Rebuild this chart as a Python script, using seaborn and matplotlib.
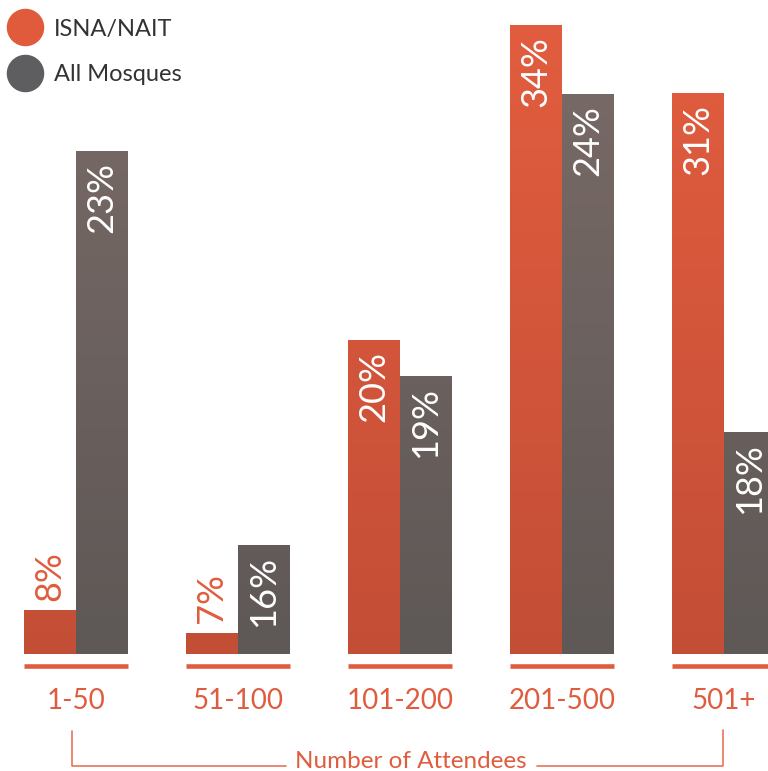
import numpy as np
import pandas as pd
import matplotlib
matplotlib.use('Agg')
import matplotlib.pyplot as plt
import matplotlib.transforms as mtrans
from matplotlib.colors import LinearSegmentedColormap
from matplotlib.lines import Line2D
import seaborn as sns

# %% dados
attendees = ['1-50', '51-100', '101-200', '201-500', '501+']
isna_nait = [8, 7, 20, 34, 31]
all_mosques = [23, 16, 19, 24, 18]
series = ['ISNA/NAIT', 'All Mosques']

# the original infographic draws each series on its own vertical scale
isna_ylim = (6.05, 34.0)
mosque_ylim = (14.06, 25.23)

df = pd.DataFrame({'Attendees': attendees * 2,
                   'Share': isna_nait + all_mosques,
                   'Group': [series[0]] * len(attendees) + [series[1]] * len(attendees)})

orange = '#E05C3E'
grad_colors = {0: ['#C34E36', '#E25D3F'], 1: ['#5E5856', '#7A6B67']}

# %% estilo
sns.set_theme(style='white')
plt.rcParams['font.family'] = ['Lato', 'DejaVu Sans']

fig = plt.figure(figsize=(7.68, 7.71), dpi=100)
ax = fig.add_axes([0, 0.1514, 1, 0.8162])
ax2 = ax.twinx()

grad = np.linspace(0, 1, 256).reshape(-1, 1)

for a, keep, lim in [(ax, 0, isna_ylim), (ax2, 1, mosque_ylim)]:
    sns.barplot(data=df, x='Attendees', y='Share', hue='Group', hue_order=series,
                order=attendees, width=0.642, saturation=1, errorbar=None,
                legend=False, ax=a)
    a.set_xlim(-0.469, 4.272)
    a.set_ylim(*lim)
    cmap = LinearSegmentedColormap.from_list('g%d' % keep, grad_colors[keep])
    for i, cont in enumerate(a.containers):
        for p in cont.patches:
            if i != keep:
                p.set_visible(False)
                continue
            p.set_facecolor('none')
            p.set_linewidth(0)
            img = a.imshow(grad, cmap=cmap, aspect='auto', extent=(0, 1, 0, 1),
                           transform=a.transAxes, origin='lower', zorder=2)
            img.set_clip_path(p)
    a.set_xlim(-0.469, 4.272)
    a.set_ylim(*lim)
    # rótulos dos valores
    for i, cont in enumerate(a.containers):
        if i != keep:
            continue
        for p in cont.patches:
            top = p.get_height()
            h_px = a.transData.transform((0, top))[1] - a.transData.transform((0, lim[0]))[1]
            xc = p.get_x() + p.get_width() / 2
            if h_px > 90:
                a.annotate(f'{top:.0f}%', (xc, top), xytext=(0, -8), textcoords='offset points',
                           rotation=90, ha='center', va='top', color='white',
                           fontsize=26, zorder=5)
            else:
                a.annotate(f'{top:.0f}%', (xc, top), xytext=(0, 7), textcoords='offset points',
                           rotation=90, ha='center', va='bottom', color=orange,
                           fontsize=26, zorder=5)

for a in (ax, ax2):
    a.set_xlabel('')
    a.set_ylabel('')
    a.set_yticks([])
    for s in a.spines.values():
        s.set_visible(False)

ax.set_xticks(range(len(attendees)))
ax.set_xticklabels(attendees)
ax.tick_params(axis='x', length=0, pad=24, labelsize=20, labelcolor=orange)

# %% linhas abaixo de cada grupo
blend = mtrans.blended_transform_factory(ax.transData, fig.transFigure)
for po, pg in zip(ax.containers[0].patches, ax2.containers[1].patches):
    left = po.get_x()
    right = pg.get_x() + pg.get_width()
    ax.plot([left, right], [0.1368, 0.1368], color=orange, lw=3.3,
            solid_capstyle='butt', transform=blend, clip_on=False)

# %% colchete "Number of Attendees"
line_c = '#E8735A'
yb = 1 - 765.5 / 771
for xs, ys in [([72, 72, 286], [1 - 731 / 771, yb, yb]),
               ([537, 723, 723], [yb, yb, 1 - 730 / 771])]:
    fig.add_artist(Line2D([x / 768 for x in xs], ys, color=line_c, lw=1.2,
                          transform=fig.transFigure))
fig.text(411 / 768, 1 - 768 / 771, 'Number of Attendees', ha='center', va='baseline',
         color=orange, fontsize=17.5)

# %% legenda
handles = [Line2D([], [], marker='o', ls='', markersize=26, color='#E05A3C'),
           Line2D([], [], marker='o', ls='', markersize=26, color='#5E5D5F')]
fig.legend(handles, series, loc='upper left', bbox_to_anchor=(7 / 768, 1 - 15 / 771),
           frameon=False, fontsize=17, handletextpad=0.62, labelspacing=1.05,
           borderaxespad=0, borderpad=0.15, handlelength=1.22, labelcolor='#333333')

fig.savefig('out.png', dpi=100)
